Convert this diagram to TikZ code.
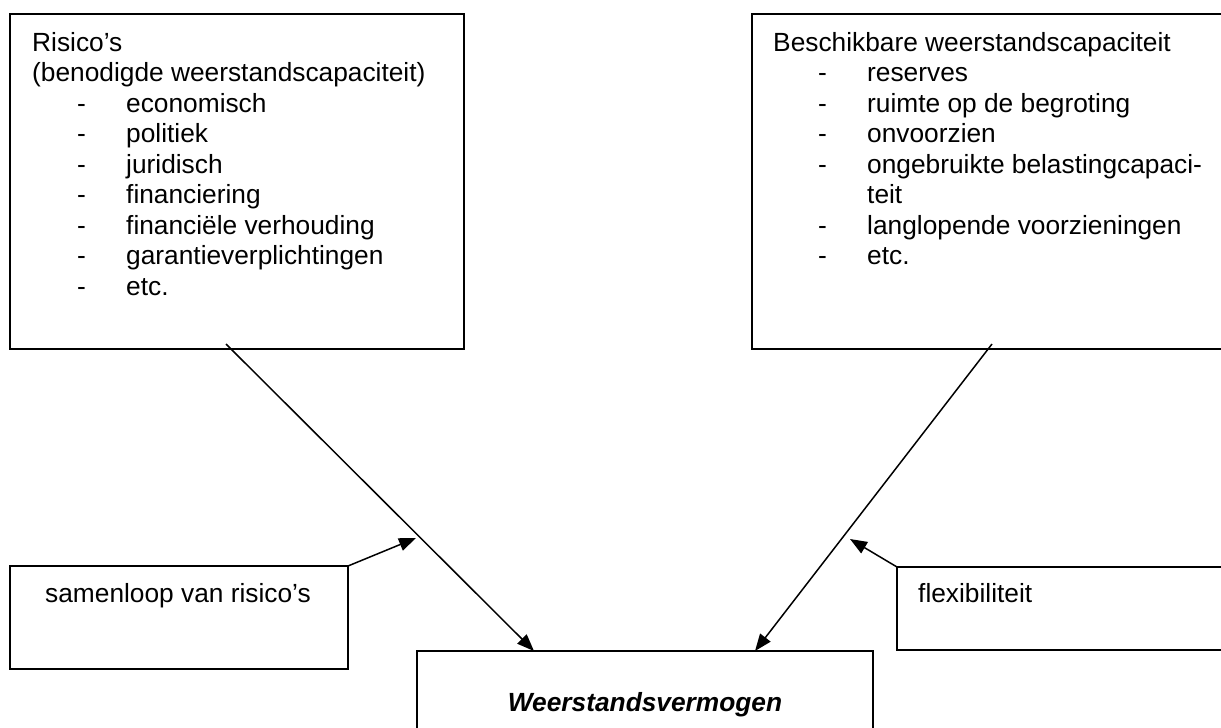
\documentclass[tikz,border=0pt]{standalone}
\usepackage{fontspec}
\setmainfont{Liberation Sans}
\usepackage{tikz}
\usetikzlibrary{arrows.meta, calc}

\tikzset{
  box/.style={draw, line width=2pt, inner sep=0pt, outer sep=0pt, anchor=north west},
  txt/.style={inner sep=0pt, anchor=base west, font=\fontsize{26.3}{30.5}\selectfont},
  conn/.style={line width=1.5pt, -{Triangle[length=17pt, width=13pt]}},
}

\begin{document}
\begin{tikzpicture}[x=1pt, y=-1pt]
  \useasboundingbox (0,0) rectangle (1221,728);
  \clip (0,0) rectangle (1221,728);

  % Boxes (right and bottom ones run off the page)
  \node[box, minimum width=454pt, minimum height=335pt] (risk) at (10,14) {};
  \node[box, minimum width=480pt, minimum height=335pt] (avail) at (752,14) {};
  \node[box, minimum width=338pt, minimum height=103pt] (combo) at (10,566) {};
  \node[box, minimum width=335pt, minimum height=83pt] (flex) at (897,567) {};
  \node[box, minimum width=456pt, minimum height=100pt] (result) at (417,651) {};

  % Risks
  \node[txt] (riskhead) at (32,51) {Risico’s};
  \node[txt] (risksub) at (32,81.5) {(benodigde weerstandscapaciteit)};
  \foreach \t [count=\i] in {economisch, politiek, juridisch, financiering, financiële verhouding, garantieverplichtingen, etc.} {
    \node[txt] (riskdash\i) at (77,{81.5+30.5*\i}) {-};
    \node[txt] (riskitem\i) at (126,{81.5+30.5*\i}) {\t};
  }

  % Available capacity
  \node[txt] (availhead) at (773,51) {Beschikbare weerstandscapaciteit};
  \foreach \i in {1,2,3,4,6,7}
    \node[txt] (availdash\i) at (818,{51+30.5*\i}) {-};
  \foreach \i/\t in {1/reserves, 2/ruimte op de begroting, 3/onvoorzien, 4/ongebruikte belastingcapaci-, 5/teit, 6/langlopende voorzieningen, 7/etc.}
    \node[txt] (availitem\i) at (867,{51+30.5*\i}) {\t};

  % Side boxes and result
  \node[txt] (combotxt) at (45,602) {samenloop van risico’s};
  \node[txt] (flextxt) at (918,602) {flexibiliteit};
  \node[txt, anchor=base, font=\fontsize{26.3}{30.5}\selectfont\bfseries\itshape] (resulttxt) at ($(result.north)+(0,60)$) {Weerstandsvermogen};

  % Connectors
  \coordinate (hitL) at (416,538);
  \coordinate (hitR) at (850,539);
  \draw[conn] ($(risk.south)+(-11,-5)$) -- ($(result.north west)+(117,0)$);
  \draw[conn] ($(avail.south)+(0,-5)$) -- ($(result.north west)+(338,0)$);
  \draw[conn] (combo.north east) -- (hitL);
  \draw[conn] (flex.north west) -- (hitR);
\end{tikzpicture}
\end{document}
